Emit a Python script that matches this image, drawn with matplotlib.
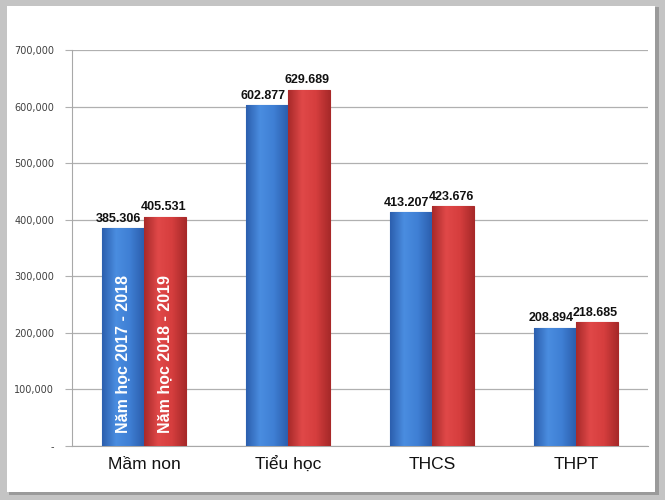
import numpy as np
import matplotlib.pyplot as plt
from matplotlib.patches import Rectangle
from matplotlib.colors import LinearSegmentedColormap

# data
categories = ["Mầm non", "Tiểu học", "THCS", "THPT"]
series_names = ["Năm học 2017 - 2018", "Năm học 2018 - 2019"]
values_1718 = [385306, 602877, 413207, 208894]
values_1819 = [405531, 629689, 423676, 218685]
yticks = [0, 100000, 200000, 300000, 400000, 500000, 600000, 700000]

plt.rcParams['font.family'] = ['Liberation Sans', 'DejaVu Sans']

fig = plt.figure(figsize=(6.65, 5), dpi=100)
fig.patch.set_facecolor("#c4c4c4")
# white card with a slight shadow
fig.patches.append(Rectangle((9/665, 5/500), 650/665, 488/500, transform=fig.transFigure,
                             facecolor="#9a9a9a", edgecolor="none", zorder=-2))
fig.patches.append(Rectangle((7/665, 8/500), 648/665, 486/500, transform=fig.transFigure,
                             facecolor="white", edgecolor="none", zorder=-1))

ax = fig.add_axes([72/665, 54/500, (648-72)/665, (446-50)/500])
ax.set_facecolor("none")

x = np.arange(len(categories))
w = 0.29
b1 = ax.bar(x - w/2, values_1718, w, color="#3b7bd0", edgecolor="#2a5ea6", linewidth=0.8, zorder=3)
b2 = ax.bar(x + w/2, values_1819, w, color="#d33b3b", edgecolor="#a82828", linewidth=0.8, zorder=3)

# soft cylinder-like shading on bars
cm_blue = LinearSegmentedColormap.from_list("b", ["#2c5fae", "#4a8de0", "#3f7fd4", "#2c5fae"])
cm_red = LinearSegmentedColormap.from_list("r", ["#a82a2a", "#e04848", "#d63e3e", "#a82a2a"])
grad = np.linspace(0, 1, 64).reshape(1, -1)
for bars, cm in [(b1, cm_blue), (b2, cm_red)]:
    for r in bars:
        x0, y0, bw, bh = r.get_x(), r.get_y(), r.get_width(), r.get_height()
        im = ax.imshow(grad, cmap=cm, aspect="auto", extent=[x0, x0 + bw, y0, y0 + bh],
                       zorder=3.5, interpolation="bicubic")
        im.set_clip_path(r)

def fmt(v):
    return f"{v:,}".replace(",", ".")

for bars, vals, dx in [(b1, values_1718, -0.03), (b2, values_1819, -0.01)]:
    for r, v in zip(bars, vals):
        ax.text(r.get_x() + r.get_width()/2 + dx, v + 6000, fmt(v), ha="center", va="bottom",
                fontsize=9, fontweight="bold", color="#111111", zorder=4)

# series names inside the first group
for bars, name in [(b1, series_names[0]), (b2, series_names[1])]:
    r = bars[0]
    ax.text(r.get_x() + r.get_width()/2, 163000, name, rotation=90, ha="center", va="center",
            fontsize=11.5, fontweight="bold", color="white", zorder=5)

ax.set_xlim(-0.5, 3.5)
ax.set_ylim(0, 700000)
ax.set_yticks(yticks)
ax.set_yticklabels(["-" if t == 0 else f"{t:,}" for t in yticks], fontsize=7, color="#404040",
                   family=["DejaVu Sans"])
ax.set_xticks(x)
ax.set_xticklabels(categories, fontsize=12.5, color="#111111")
ax.tick_params(axis="x", length=0, pad=8)
ax.tick_params(axis="y", length=5, color="#b0b0b0", pad=8)
ax.grid(axis="y", color="#b0b0b0", linewidth=0.9, zorder=0)
for s in ["top", "right"]:
    ax.spines[s].set_visible(False)
for s in ["left", "bottom"]:
    ax.spines[s].set_color("#a8a8a8")

fig.savefig("out.png", dpi=100, facecolor=fig.get_facecolor())
